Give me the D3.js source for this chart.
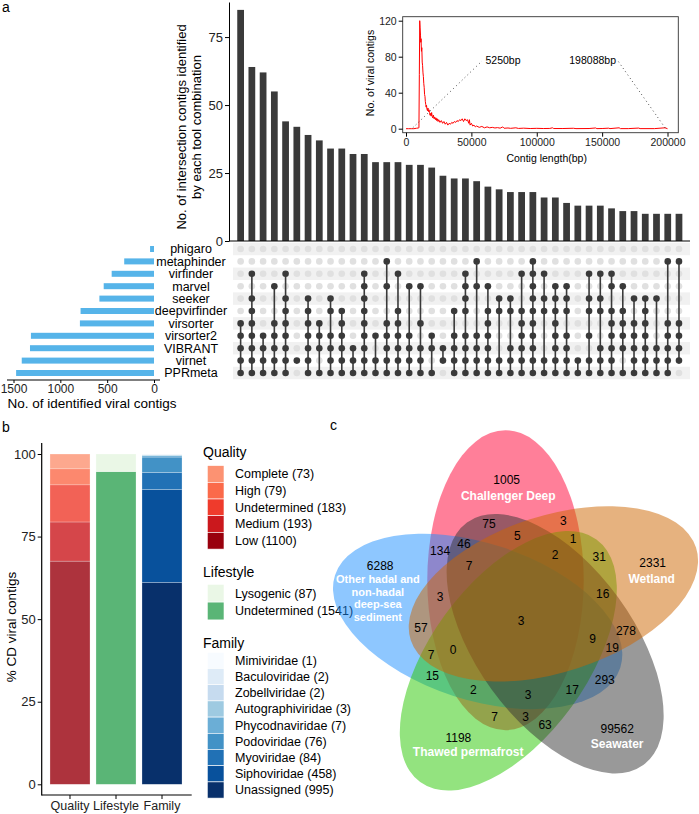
<!DOCTYPE html>
<html>
<head>
<meta charset="utf-8">
<script src="https://cdn.jsdelivr.net/npm/d3@7"></script>
<style>
body { margin: 0; background: #fff; }
svg { font-family: "Liberation Sans", Arial, Helvetica, sans-serif; }
</style>
</head>
<body>
<div id="chart"></div>
<script>
// ---- panel a : upset data ----
var tools = ["phigaro", "metaphinder", "virfinder", "marvel", "seeker", "deepvirfinder",
             "virsorter", "virsorter2", "VIBRANT", "virnet", "PPRmeta"];
var toolCounts = [42, 318, 452, 537, 583, 784, 791, 1314, 1324, 1412, 1472];

var interSizes = [85, 64, 62, 55, 44, 42, 39, 37, 34, 34, 32, 32, 29, 29, 29, 28, 28, 27, 24, 23,
                  23, 22, 20, 19, 18, 18, 18, 16, 16, 14, 13, 13, 13, 12, 11, 11, 10, 10, 10, 10];
// tool indices (rows) in each intersection column
var interSets = [
  [6,7,8,9,10], [2,4,5,6,7,8,9,10], [7,8,9,10], [3,6,7,8,9,10], [2,4,5,6,7,8,9,10],
  [9], [4,5,6,7,8,9,10], [6,7,8,10], [4,5,7,8,9,10], [5,6,7,8,9,10],
  [8,9,10], [2,3,4,5,6,7,8,9,10], [7,9,10], [1,3,6,7,8,9,10], [2,5,6,7,8,9,10],
  [3,7,8,9,10], [3,6,8,9,10], [7,8,10], [8,9], [5,7,8,9,10],
  [2,3,4,5,7,8,9,10], [1,3,7,8,9,10], [3,5,6,7,8,9,10], [4,5,9,10], [4,5,8,9,10],
  [2,5,6,7,8,9,10], [1,2,3,4,5,6,7,8,9,10], [2,4,5,9,10], [3,4,5,6,7,8,9,10], [3,4,5,7,8,9,10],
  [9,10], [2,4,5,7,9,10], [2,4,5,8,9,10], [2,3,5,6,7,8,9,10], [3,5,6,7,8,10],
  [4,6,7,8,9,10], [4,5,6,7,8,9,10], [4,8,9,10], [1,6,7,8,9,10], [1,6,7,8,9]
];

// inset: contig length distribution
var lenBp = [0, 2000, 4000, 6000, 8000, 9400, 9900, 10200, 10500, 10800, 11100, 11300, 11500, 11800,
  12100, 12400, 12700, 13000, 13300, 13600, 13900, 14200, 14500, 14800, 15100, 15400, 15700, 16000,
  16400, 16800, 17200, 17600, 18000, 18400, 18800, 19200, 19600, 20000, 20500, 21000, 21500, 22000,
  22500, 23000, 23500, 24000, 24500, 25000, 26000, 27000, 28000, 29000, 30000, 31000, 32000, 33000,
  34000, 35000, 36000, 37000, 38000, 39000, 40000, 41000, 42000, 43000, 44000, 45000, 46000, 47000,
  48000, 48500, 49000, 50000, 51000, 52000, 53000, 54000, 56000, 58000, 60000, 62000, 64000, 66000,
  68000, 70000, 72000, 74000, 75000, 78000, 80000, 84000, 86000, 90000, 95000, 100000, 105000,
  110000, 112000, 113000, 120000, 128000, 130000, 140000, 145000, 146000, 150000, 155000, 156000,
  163000, 164000, 170000, 178000, 179000, 190000, 198088, 200000];
var lenCount = [0, 0, 0, 0, 0.5, 0.8, 1, 60, 120, 112, 104, 96, 100, 86,
  90, 74, 70, 62, 58, 50, 46, 38, 36, 30, 27, 24, 26, 22,
  20, 23, 19, 21, 18, 15, 17, 14, 18, 14, 12, 15, 11, 13,
  10, 12, 9, 11, 8, 10, 7, 9, 6, 8, 5, 7, 4, 6,
  5, 7, 6, 8, 7, 9, 8, 10, 9, 11, 8, 11, 9, 10,
  6, 10, 4, 6, 3, 4, 2, 3, 1.5, 2.5, 1, 2, 1, 1.5,
  0.8, 1.2, 0.6, 2, 0.5, 0.8, 0.4, 1, 0.3, 0.6, 0.2, 0.4, 0.2,
  0.3, 1, 0.2, 0.2, 0.5, 0.1, 0.2, 0.8, 0.1, 0.2, 0.6, 0.1,
  1, 0.1, 0.1, 0.7, 0.1, 0.1, 1, 0];
var lenMarks = [5250, 198088];

// ---- panel b data ----
var stackCats = ["Quality", "Lifestyle", "Family"];
var qualityNames = ["Complete", "High", "Undetermined", "Medium", "Low"];
var qualityCounts = [73, 79, 183, 193, 1100];
var lifestyleNames = ["Lysogenic", "Undetermined"];
var lifestyleCounts = [87, 1541];
var familyNames = ["Mimiviridae", "Baculoviridae", "Zobellviridae", "Autographiviridae", "Phycodnaviridae",
                   "Podoviridae", "Myoviridae", "Siphoviridae", "Unassigned"];
var familyCounts = [1, 2, 2, 3, 7, 76, 84, 458, 995];

var qualityColors = ["#FC9272", "#FB6A4A", "#EF3B2C", "#CB181D", "#99000D"];
var lifestyleColors = ["#E5F5E0", "#31A354"];
var familyColors = ["#F7FBFF", "#DEEBF7", "#C6DBEF", "#9ECAE1", "#6BAED6", "#4292C6", "#2171B5", "#08519C", "#08306B"];

// ---- panel c data ----
var vennSets = ["Challenger Deep", "Other hadal and non-hadal deep-sea sediment", "Thawed permafrost", "Seawater", "Wetland"];
var vennSolo = [1005, 6288, 1198, 99562, 2331];
var vennColors = ["#FF0033", "#1E90FF", "#28C800", "#333333", "#CD6600"];
var vennCounts = [75, 3, 5, 1, 46, 134, 2, 31, 7, 3, 16, 3, 57, 278, 9, 19, 0, 7, 15, 293, 2, 17, 3, 7, 3, 63];
// label anchor for each region, in venn unit space
var vennCountPos = [[0.405,0.794],[0.633,0.804],[0.492,0.758],[0.663,0.748],[0.328,0.733],[0.255,0.712],
  [0.608,0.699],[0.743,0.693],[0.344,0.667],[0.255,0.571],[0.754,0.581],[0.503,0.498],[0.196,0.476],
  [0.825,0.467],[0.723,0.442],[0.783,0.415],[0.295,0.408],[0.227,0.392],[0.231,0.329],[0.760,0.318],
  [0.357,0.287],[0.660,0.287],[0.525,0.270],[0.422,0.202],[0.517,0.202],[0.577,0.178]];
var vennSoloPos = [[0.459,0.929],[0.071,0.667],[0.311,0.140],[0.798,0.165],[0.907,0.676]];
var vennNamePos = [[0.464,0.880],[0.064,0.567],[0.341,0.096],[0.798,0.120],[0.904,0.626]];
var vennNameLines = [["Challenger Deep"], ["Other hadal and", "non-hadal", "deep-sea", "sediment"],
                     ["Thawed permafrost"], ["Seawater"], ["Wetland"]];

var svg = d3.select("#chart").append("svg")
    .attr("width", 699)
    .attr("height", 814);

// panel letters
svg.append("text").attr("x", 2).attr("y", 12).attr("font-size", 14).text("a");
svg.append("text").attr("x", 2).attr("y", 432).attr("font-size", 14).text("b");
svg.append("text").attr("x", 330).attr("y", 430).attr("font-size", 14).text("c");

// ================= panel a : intersection bars =================
var xInt = d3.scaleBand()
    .domain(d3.range(interSizes.length))
    .range([235, 684.6])
    .paddingInner(0.4)
    .paddingOuter(0.2);
var yInt = d3.scaleLinear().domain([0, 87.9]).range([241, 2]);

var gBars = svg.append("g");
gBars.selectAll("rect")
    .data(interSizes)
    .enter().append("rect")
    .attr("x", function(d, i) { return xInt(i); })
    .attr("y", function(d) { return yInt(d); })
    .attr("width", xInt.bandwidth())
    .attr("height", function(d) { return yInt(0) - yInt(d); })
    .attr("fill", "#3a3a3a");

var yAxisA = svg.append("g")
    .attr("transform", "translate(229,0)")
    .call(d3.axisLeft(yInt).tickValues([0, 25, 50, 75]).tickSize(4).tickSizeOuter(0).tickPadding(2));
yAxisA.selectAll("text").attr("font-size", 13).attr("fill", "#222");
yAxisA.select(".domain").attr("stroke", "#000");
svg.append("line")
    .attr("x1", 229).attr("x2", 690)
    .attr("y1", yInt(0)).attr("y2", yInt(0))
    .attr("stroke", "#000").attr("stroke-width", 1.2);

var yTitle = svg.append("text")
    .attr("transform", "translate(189,127) rotate(-90)")
    .attr("text-anchor", "middle")
    .attr("font-size", 13);
yTitle.append("tspan").attr("x", 0).attr("dy", "-0.2em").text("No. of intersection contigs identified");
yTitle.append("tspan").attr("x", 0).attr("dy", "1.15em").text("by each tool combination");

// ================= panel a : matrix =================
var yRow = d3.scalePoint().domain(tools).range([249, 373]);
var rowStep = yRow.step();

svg.append("g").selectAll("rect")
    .data(tools.filter(function(d, i) { return i % 2 === 0; }))
    .enter().append("rect")
    .attr("x", 233).attr("width", 457)
    .attr("y", function(d) { return yRow(d) - rowStep / 2; })
    .attr("height", rowStep)
    .attr("fill", "#f1f1f1");

var gMat = svg.append("g");
interSets.forEach(function(set, c) {
    var cx = xInt(c) + xInt.bandwidth() / 2;
    tools.forEach(function(t, r) {
        gMat.append("circle")
            .attr("cx", cx).attr("cy", yRow(t)).attr("r", 3.3)
            .attr("fill", set.indexOf(r) >= 0 ? "#3a3a3a" : "#e0e0e0");
    });
    if (set.length > 1) {
        gMat.append("line")
            .attr("x1", cx).attr("x2", cx)
            .attr("y1", yRow(tools[d3.min(set)]))
            .attr("y2", yRow(tools[d3.max(set)]))
            .attr("stroke", "#3a3a3a").attr("stroke-width", 1.6);
    }
});

// ================= panel a : set size bars =================
var xTool = d3.scaleLinear().domain([0, 1500]).range([154, 13.5]);
svg.append("g").selectAll("rect")
    .data(toolCounts)
    .enter().append("rect")
    .attr("x", function(d) { return xTool(d); })
    .attr("width", function(d) { return xTool(0) - xTool(d); })
    .attr("y", function(d, i) { return yRow(tools[i]) - 3; })
    .attr("height", 6)
    .attr("fill", "#56B4E9");

svg.append("g").selectAll("text")
    .data(tools)
    .enter().append("text")
    .attr("x", 191)
    .attr("y", function(d) { return yRow(d); })
    .attr("dy", "0.35em")
    .attr("text-anchor", "middle")
    .attr("font-size", 12.5)
    .text(function(d) { return d; });

var xAxisTool = svg.append("g")
    .attr("transform", "translate(0,380)")
    .call(d3.axisBottom(xTool).tickValues([0, 500, 1000, 1500]).tickFormat(d3.format("d"))
        .tickSize(3).tickSizeOuter(0).tickPadding(1));
xAxisTool.select(".domain").remove();
xAxisTool.selectAll("text").attr("font-size", 12).attr("fill", "#222");
svg.append("line").attr("x1", 7).attr("x2", 160).attr("y1", 380).attr("y2", 380)
    .attr("stroke", "#000").attr("stroke-width", 1.2);
svg.append("text").attr("x", 92).attr("y", 408).attr("text-anchor", "middle")
    .attr("font-size", 13.5).text("No. of identified viral contigs");

// ================= panel a : inset =================
var ix = d3.scaleLinear().domain([0, 200000]).range([406, 667.5]);
var iy = d3.scaleLinear().domain([0, 120]).range([128.7, 20.7]);

svg.append("rect")
    .attr("x", 402.7).attr("y", 16.7)
    .attr("width", 275.6).attr("height", 116)
    .attr("fill", "#fff").attr("stroke", "#333").attr("stroke-width", 0.9);

var iyAxis = svg.append("g")
    .attr("transform", "translate(402.7,0)")
    .call(d3.axisLeft(iy).tickValues([0, 40, 80, 120]).tickSize(4).tickPadding(2));
iyAxis.select(".domain").remove();
iyAxis.selectAll("text").attr("font-size", 10.5).attr("fill", "#222");

var ixAxis = svg.append("g")
    .attr("transform", "translate(0,132.7)")
    .call(d3.axisBottom(ix).tickValues([0, 50000, 100000, 150000, 200000]).tickFormat(d3.format("d"))
        .tickSize(4).tickPadding(2));
ixAxis.select(".domain").remove();
ixAxis.selectAll("text").attr("font-size", 10.5).attr("fill", "#222");

svg.append("text").attr("x", 546.7).attr("y", 162).attr("text-anchor", "middle")
    .attr("font-size", 10.5).text("Contig length(bp)");
svg.append("text").attr("transform", "translate(374,73) rotate(-90)")
    .attr("text-anchor", "middle").attr("font-size", 10.5).text("No. of viral contigs");

var lenData = lenBp.map(function(b, i) { return [b, lenCount[i]]; });
svg.append("path")
    .datum(lenData)
    .attr("fill", "none")
    .attr("stroke", "#ff0000")
    .attr("stroke-width", 1)
    .attr("d", d3.line().x(function(d) { return ix(d[0]); }).y(function(d) { return iy(d[1]); }));

// dotted pointers to min/max length
var markLabelX = [482, 618];
lenMarks.forEach(function(m, i) {
    svg.append("line")
        .attr("x1", ix(m)).attr("y1", iy(0) - 1)
        .attr("x2", markLabelX[i]).attr("y2", 61)
        .attr("stroke", "#222").attr("stroke-width", 1)
        .attr("stroke-dasharray", "0.8,3.2");
    svg.append("text")
        .attr("x", i === 0 ? markLabelX[i] + 3.5 : markLabelX[i] - 2)
        .attr("y", 60.3).attr("dy", "0.35em")
        .attr("text-anchor", i === 0 ? "start" : "end")
        .attr("font-size", 10.5)
        .text(m + "bp");
});

// ================= panel b : stacked bars =================
var xCat = d3.scaleBand().domain(stackCats).range([43.5, 188.5]).paddingInner(0.13).paddingOuter(0.141);
var yPct = d3.scaleLinear().domain([0, 100]).range([784.3, 454]);

function stackSegments(names, counts) {
    var total = d3.sum(counts);
    var segs = [];
    var acc = 0;
    for (var i = names.length - 1; i >= 0; i--) {
        segs.push({ i: i, y0: acc / total * 100, y1: (acc + counts[i]) / total * 100 });
        acc += counts[i];
    }
    return segs;
}

var stacks = [
    { cat: "Quality", segs: stackSegments(qualityNames, qualityCounts), colors: qualityColors, op: 0.8 },
    { cat: "Lifestyle", segs: stackSegments(lifestyleNames, lifestyleCounts), colors: lifestyleColors, op: 0.8 },
    { cat: "Family", segs: stackSegments(familyNames, familyCounts), colors: familyColors, op: 1 }
];
stacks.forEach(function(s) {
    svg.append("g").selectAll("rect")
        .data(s.segs)
        .enter().append("rect")
        .attr("x", xCat(s.cat))
        .attr("width", xCat.bandwidth())
        .attr("y", function(d) { return yPct(d.y1); })
        .attr("height", function(d) { return yPct(d.y0) - yPct(d.y1); })
        .attr("fill", function(d) { return s.colors[d.i]; })
        .attr("fill-opacity", s.op)
        .attr("stroke", "#fff").attr("stroke-opacity", 0.5).attr("stroke-width", 0.5);
});

var yAxisB = svg.append("g")
    .attr("transform", "translate(41.7,0)")
    .call(d3.axisLeft(yPct).tickValues([0, 25, 50, 75, 100]).tickSize(4).tickSizeOuter(0).tickPadding(2));
yAxisB.select(".domain").remove();
yAxisB.selectAll("text").attr("font-size", 13).attr("fill", "#222");
svg.append("line").attr("x1", 41.7).attr("x2", 41.7).attr("y1", 443).attr("y2", 795.5)
    .attr("stroke", "#000").attr("stroke-width", 1.2);

var xAxisB = svg.append("g")
    .attr("transform", "translate(0,795)")
    .call(d3.axisBottom(xCat).tickSize(4).tickSizeOuter(0).tickPadding(2));
xAxisB.select(".domain").remove();
xAxisB.selectAll("text").attr("font-size", 12.5).attr("fill", "#222");
svg.append("line").attr("x1", 41.7).attr("x2", 191.7).attr("y1", 795).attr("y2", 795)
    .attr("stroke", "#000").attr("stroke-width", 1.2);

svg.append("text").attr("transform", "translate(15.5,627) rotate(-90)")
    .attr("text-anchor", "middle").attr("font-size", 13.5).text("% CD viral contigs");

// legends
function drawLegend(title, names, counts, colors, titleY, keyY, keyH) {
    svg.append("text").attr("x", 203).attr("y", titleY).attr("dy", "0.35em")
        .attr("font-size", 14).text(title);
    var g = svg.append("g");
    g.selectAll("rect").data(names).enter().append("rect")
        .attr("x", 207.3).attr("width", 16.7)
        .attr("y", function(d, i) { return keyY + i * keyH; })
        .attr("height", keyH)
        .attr("fill", function(d, i) { return colors[i]; })
        .attr("stroke", "#fff").attr("stroke-width", 0.6);
    g.selectAll("text").data(names).enter().append("text")
        .attr("x", 235)
        .attr("y", function(d, i) { return keyY + i * keyH + keyH / 2; })
        .attr("dy", "0.35em")
        .attr("font-size", 12.5)
        .text(function(d, i) { return d + " (" + counts[i] + ")"; });
}
drawLegend("Quality", qualityNames, qualityCounts, qualityColors, 452, 465.6, 16.7);
drawLegend("Lifestyle", lifestyleNames, lifestyleCounts,
           lifestyleColors.map(function(c) { return d3.interpolateRgb("#fff", c)(0.8); }), 571.7, 584.3, 17.8);
drawLegend("Family", familyNames, familyCounts, familyColors, 642.7, 652.3, 16.2);

// ================= panel c : venn =================
var vx = d3.scaleLinear().domain([0, 1]).range([357, 683]);
var vy = d3.scaleLinear().domain([0, 1]).range([783, 457]);
var vDist = 0.13, vA = 0.24, vB = 0.46, vStart = 110;

var gVenn = svg.append("g");
vennSets.forEach(function(name, i) {
    var ang = (vStart + 72 * i) * Math.PI / 180;
    var cx = vx(0.5 + vDist * Math.cos(ang));
    var cy = vy(0.5 + vDist * Math.sin(ang));
    gVenn.append("ellipse")
        .attr("cx", 0).attr("cy", 0)
        .attr("rx", vx(vA) - vx(0))
        .attr("ry", vx(vB) - vx(0))
        .attr("transform", "translate(" + cx + "," + cy + ") rotate(" + (-72 * i) + ")")
        .attr("fill", vennColors[i])
        .attr("fill-opacity", 0.5);
});

gVenn.selectAll("text.cnt")
    .data(vennCounts)
    .enter().append("text")
    .attr("class", "cnt")
    .attr("x", function(d, i) { return vx(vennCountPos[i][0]); })
    .attr("y", function(d, i) { return vy(vennCountPos[i][1]); })
    .attr("dy", "0.35em")
    .attr("text-anchor", "middle")
    .attr("font-size", 12)
    .text(function(d) { return d; });

gVenn.selectAll("text.solo")
    .data(vennSolo)
    .enter().append("text")
    .attr("class", "solo")
    .attr("x", function(d, i) { return vx(vennSoloPos[i][0]); })
    .attr("y", function(d, i) { return vy(vennSoloPos[i][1]); })
    .attr("dy", "0.35em")
    .attr("text-anchor", "middle")
    .attr("font-size", 12)
    .text(function(d) { return d; });

vennNameLines.forEach(function(lines, i) {
    lines.forEach(function(l, j) {
        gVenn.append("text")
            .attr("x", vx(vennNamePos[i][0]))
            .attr("y", vy(vennNamePos[i][1]) + (j - (lines.length - 1) / 2) * 12.6)
            .attr("dy", "0.35em")
            .attr("text-anchor", "middle")
            .attr("font-size", lines.length > 1 ? 11 : 12)
            .attr("font-weight", "bold")
            .attr("fill", "#fff")
            .text(l);
    });
});
</script>
</body>
</html>
